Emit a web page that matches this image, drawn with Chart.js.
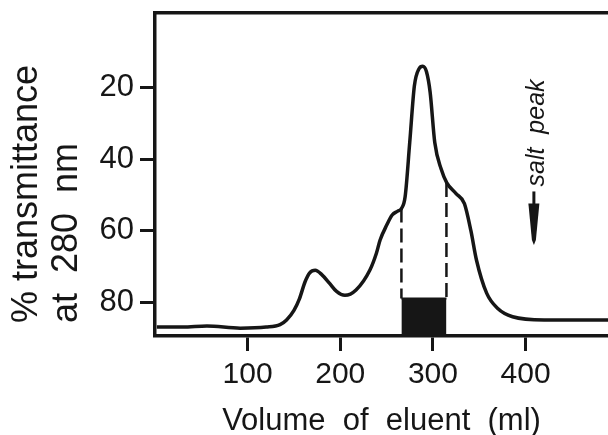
<!DOCTYPE html>
<html>
<head>
<meta charset="utf-8">
<script src="https://cdn.jsdelivr.net/npm/chart.js@4"></script>
<style>
  html, body { margin: 0; padding: 0; background: #fff; }
  #wrap { width: 608px; height: 435px; }
</style>
</head>
<body>
<div id="wrap"><canvas id="elutionChart"></canvas></div>
<script>
// elution profile: volume (ml) vs % transmittance at 280 nm
const volume = [2, 30, 56, 92, 120, 135, 142, 150, 156, 162, 167, 173, 180, 188, 196, 205, 217, 232, 239, 243, 250, 256, 262, 266, 270, 275, 280, 285, 289, 293, 297, 302, 309, 315, 325, 334, 341, 347, 358, 370, 386, 420, 489];
const transmittance = [87.0, 87.0, 86.7, 87.3, 87.0, 86.3, 85.0, 82.3, 79.0, 74.3, 71.8, 71.1, 72.3, 74.6, 77.0, 78.1, 76.6, 71.0, 66.3, 62.6, 58.5, 55.6, 54.5, 53.8, 50.5, 35.2, 19.4, 14.6, 13.9, 15.4, 21.2, 35.3, 42.8, 46.6, 49.6, 52.4, 60.0, 68.2, 77.5, 81.8, 84.1, 85.0, 85.0];

// pooled fraction (dashed cut lines + black block)
const fractionVolumes = [266, 314.6];
const fractionCurve = [53.8, 46.6];
const fractionTop = 79;

// salt peak marker
const saltPeakVolume = 409;
const saltArrowRange = [49, 64];
const saltLabel = 'salt  peak';

const xTicks = [100, 200, 300, 400];
const yTicks = [20, 40, 60, 80];
const xTitle = 'Volume  of  eluent  (ml)';
const yTitle = ['% transmittance', 'at  280  nm'];

const xMax = 489;
const yMin = -1;
const yMax = 89.5;
const ink = '#161616';
const fontFamily = '"Liberation Sans", Arial, sans-serif';

const curve = volume.map(function(v, i) { return { x: v, y: transmittance[i] }; });

// no extra label padding around the axes, the frame sits on the canvas edges
function noPadding(scale) {
  scale.paddingTop = 0;
  scale.paddingBottom = 0;
  scale.paddingLeft = 0;
  scale.paddingRight = 0;
}

const annotations = {
  id: 'annotations',
  afterDraw: function(chart) {
    const ctx = chart.ctx;
    const xs = chart.scales.x;
    const ys = chart.scales.y;
    ctx.save();
    ctx.fillStyle = ink;
    ctx.strokeStyle = ink;

    // y axis title, two rotated lines
    ctx.font = '36px ' + fontFamily;
    ctx.textAlign = 'left';
    ctx.textBaseline = 'middle';
    [27, 67].forEach(function(cx, i) {
      ctx.save();
      ctx.translate(cx, 323);
      ctx.rotate(-Math.PI / 2);
      ctx.fillText(yTitle[i], 0, 0);
      ctx.restore();
    });

    // salt peak arrow
    const ax = xs.getPixelForValue(saltPeakVolume);
    const top = ys.getPixelForValue(saltArrowRange[0]);
    const tip = ys.getPixelForValue(saltArrowRange[1]);
    ctx.lineWidth = 3;
    ctx.beginPath();
    ctx.moveTo(ax, top);
    ctx.lineTo(ax, top + 14);
    ctx.stroke();
    ctx.beginPath();
    ctx.moveTo(ax - 5.5, top + 12);
    ctx.lineTo(ax + 5.5, top + 12);
    ctx.lineTo(ax + 2, tip - 5);
    ctx.lineTo(ax, tip);
    ctx.lineTo(ax - 2, tip - 5);
    ctx.closePath();
    ctx.fill();

    // salt peak label
    ctx.font = 'italic 25px ' + fontFamily;
    ctx.textAlign = 'left';
    ctx.textBaseline = 'middle';
    ctx.translate(ax + 3, top - 5);
    ctx.rotate(-Math.PI / 2);
    ctx.fillText(saltLabel, 0, 0);
    ctx.restore();
  }
};

const config = {
  type: 'line',
  data: {
    datasets: [
      {
        data: curve,
        borderColor: ink,
        borderWidth: 3.5,
        pointRadius: 0,
        cubicInterpolationMode: 'monotone',
        fill: false
      },
      {
        data: fractionVolumes.map(function(v) { return { x: v, y: fractionTop }; }),
        borderColor: ink,
        backgroundColor: ink,
        borderWidth: 2,
        pointRadius: 0,
        fill: { value: yMax }
      },
      {
        data: [{ x: fractionVolumes[0], y: fractionCurve[0] }, { x: fractionVolumes[0], y: fractionTop }],
        borderColor: ink,
        borderWidth: 2.5,
        borderDash: [14, 6],
        pointRadius: 0,
        fill: false
      },
      {
        data: [{ x: fractionVolumes[1], y: fractionCurve[1] }, { x: fractionVolumes[1], y: fractionTop }],
        borderColor: ink,
        borderWidth: 2.5,
        borderDash: [14, 6],
        pointRadius: 0,
        fill: false
      }
    ]
  },
  options: {
    responsive: true,
    maintainAspectRatio: false,
    animation: false,
    layout: { padding: 0 },
    plugins: {
      legend: { display: false },
      tooltip: { enabled: false }
    },
    scales: {
      x: {
        type: 'linear',
        min: 0,
        max: xMax,
        afterBuildTicks: function(scale) {
          scale.ticks = xTicks.map(function(v) { return { value: v }; });
        },
        afterFit: function(scale) { scale.height = 99; noPadding(scale); },
        grid: { drawOnChartArea: false, drawTicks: true, tickLength: 15, tickWidth: 3, tickColor: ink },
        border: { display: true, width: 3.5, color: ink },
        ticks: { color: ink, font: { family: fontFamily, size: 30 }, padding: 6, maxRotation: 0 },
        title: {
          display: true,
          text: xTitle,
          color: ink,
          font: { family: fontFamily, size: 31, lineHeight: 0.9 },
          padding: 0
        }
      },
      xTop: {
        type: 'linear',
        position: 'top',
        min: 0,
        max: xMax,
        afterFit: function(scale) { scale.height = 13; noPadding(scale); },
        grid: { display: false },
        border: { display: true, width: 3.5, color: ink },
        ticks: { display: false }
      },
      y: {
        type: 'linear',
        reverse: true,
        min: yMin,
        max: yMax,
        afterBuildTicks: function(scale) {
          scale.ticks = yTicks.map(function(v) { return { value: v }; });
        },
        afterFit: function(scale) { scale.width = 155; noPadding(scale); },
        grid: { drawOnChartArea: false, drawTicks: true, tickLength: 15, tickWidth: 3, tickColor: ink },
        border: { display: true, width: 3.5, color: ink },
        ticks: { color: ink, font: { family: fontFamily, size: 31 }, padding: 6 }
      }
    }
  },
  plugins: [annotations]
};

new Chart(document.getElementById('elutionChart'), config);
</script>
</body>
</html>
